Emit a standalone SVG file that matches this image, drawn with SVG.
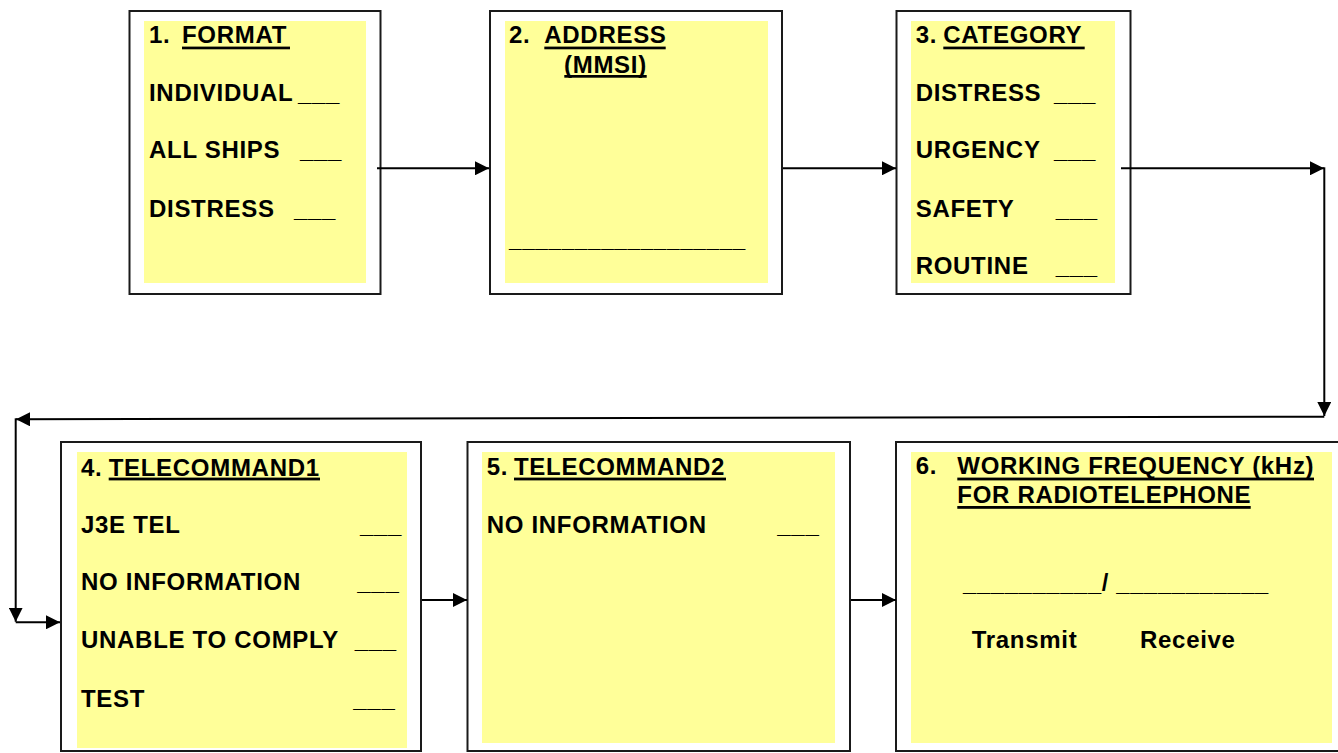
<svg xmlns="http://www.w3.org/2000/svg" width="1338" height="753" viewBox="0 0 1338 753">
<style>
.box{fill:#fff;stroke:#1a1a1a;stroke-width:2}
.fill{fill:#FFFF99}
.t{font-family:"Liberation Sans",Arial,sans-serif;font-weight:bold;font-size:24px;letter-spacing:0.7px;fill:#000}
.ul{fill:#000}
.c{fill:none;stroke:#000;stroke-width:2}
</style>
<defs>
<marker id="arr" markerUnits="userSpaceOnUse" markerWidth="14" markerHeight="14" refX="14" refY="7" orient="auto">
<path d="M0,0 L14,7 L0,14 z" fill="#000"/>
</marker>
</defs>
<rect width="1338" height="753" fill="#fff"/>

<g id="node1">
<rect class="box" x="129.5" y="11" width="251" height="283"/>
<rect class="fill" x="144" y="21" width="222" height="262"/>
<text class="t" x="149" y="43">1.</text>
<text class="t" x="182" y="43">FORMAT</text>
<rect class="ul" x="182" y="46.6" width="108" height="2.7"/>
<text class="t" x="149" y="101">INDIVIDUAL</text><text class="t" x="298" y="101">___</text>
<text class="t" x="149" y="158">ALL SHIPS</text><text class="t" x="300" y="158">___</text>
<text class="t" x="149" y="217">DISTRESS</text><text class="t" x="294" y="217">___</text>
</g>

<g id="node2">
<rect class="box" x="490" y="11" width="292" height="283"/>
<rect class="fill" x="505" y="21" width="263" height="262"/>
<text class="t" x="509" y="43">2.</text>
<text class="t" x="544.3" y="43">ADDRESS</text>
<rect class="ul" x="544.3" y="46.6" width="121.4" height="2.7"/>
<text class="t" x="564" y="73">(MMSI)</text>
<rect class="ul" x="564.3" y="75" width="82.4" height="2.7"/>
<text class="t" x="509" y="247" textLength="237" lengthAdjust="spacingAndGlyphs">__________________</text>
</g>

<g id="node3">
<rect class="box" x="896.5" y="11" width="234" height="283"/>
<rect class="fill" x="911" y="21" width="204" height="262"/>
<text class="t" x="915.7" y="43">3.</text>
<text class="t" x="943.3" y="43">CATEGORY</text>
<rect class="ul" x="943.3" y="46.6" width="141.4" height="2.7"/>
<text class="t" x="915.7" y="101">DISTRESS</text><text class="t" x="1054" y="101">___</text>
<text class="t" x="915.7" y="158">URGENCY</text><text class="t" x="1054" y="158">___</text>
<text class="t" x="915.7" y="217">SAFETY</text><text class="t" x="1055.7" y="217">___</text>
<text class="t" x="915.7" y="274">ROUTINE</text><text class="t" x="1055.7" y="274">___</text>
</g>

<g id="node4">
<rect class="box" x="61" y="442" width="360" height="309"/>
<rect class="fill" x="77" y="452" width="330" height="296"/>
<text class="t" x="81" y="476">4.</text>
<text class="t" x="108.7" y="476">TELECOMMAND1</text>
<rect class="ul" x="108.7" y="477.6" width="211.3" height="2.8"/>
<text class="t" x="81" y="533">J3E TEL</text><text class="t" x="360" y="533">___</text>
<text class="t" x="81" y="590">NO INFORMATION</text><text class="t" x="357.3" y="590">___</text>
<text class="t" x="81" y="648">UNABLE TO COMPLY</text><text class="t" x="354.7" y="648">___</text>
<text class="t" x="81" y="707">TEST</text><text class="t" x="353.3" y="707">___</text>
</g>

<g id="node5">
<rect class="box" x="467.5" y="442" width="382.5" height="309"/>
<rect class="fill" x="482" y="452" width="353" height="291"/>
<text class="t" x="486.7" y="475">5.</text>
<text class="t" x="514" y="475">TELECOMMAND2</text>
<rect class="ul" x="514" y="477.6" width="212" height="2.8"/>
<text class="t" x="486.7" y="533">NO INFORMATION</text><text class="t" x="777.3" y="533">___</text>
</g>

<g id="node6">
<rect class="box" x="896" y="442" width="460" height="309"/>
<rect class="fill" x="911" y="452" width="421" height="291"/>
<text class="t" x="915.7" y="474">6.</text>
<text class="t" x="957.3" y="474">WORKING FREQUENCY (kHz)</text>
<rect class="ul" x="957.3" y="477.6" width="356.7" height="2.8"/>
<text class="t" x="957.3" y="503">FOR RADIOTELEPHONE</text>
<rect class="ul" x="957.3" y="506" width="293.4" height="2.8"/>
<text class="t" x="963" y="591" textLength="306" lengthAdjust="spacingAndGlyphs">__________/ ___________</text>
<text class="t" x="971.7" y="648">Transmit</text>
<text class="t" x="1140" y="648">Receive</text>
</g>

<g id="connectors">
<path class="c" d="M377,168.3 H489" marker-end="url(#arr)"/>
<path class="c" d="M783,168.3 H896" marker-end="url(#arr)"/>
<path class="c" d="M1121,168.3 H1324" marker-end="url(#arr)"/>
<path class="c" d="M1324.3,167.3 V416" marker-end="url(#arr)"/>
<path class="c" d="M1324.3,416.7 L16,419.3" marker-end="url(#arr)"/>
<path class="c" d="M15.7,418.3 V621.7" marker-end="url(#arr)"/>
<path class="c" d="M15.7,622.3 H60" marker-end="url(#arr)"/>
<path class="c" d="M422,600 H467" marker-end="url(#arr)"/>
<path class="c" d="M851,600 H896" marker-end="url(#arr)"/>
</g>
</svg>
